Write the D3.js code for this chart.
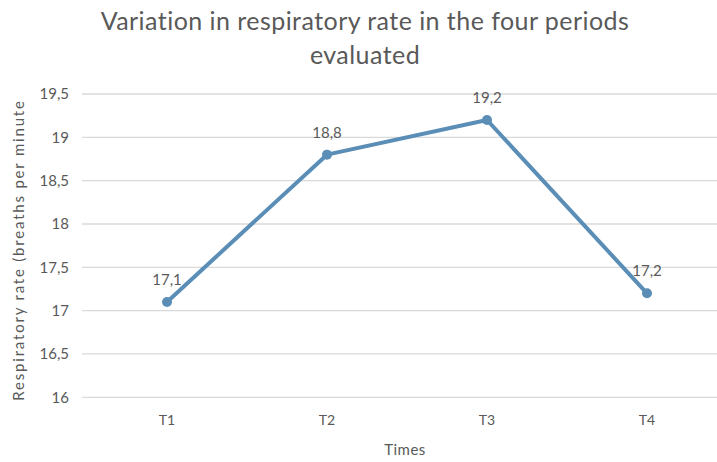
<!DOCTYPE html>
<html><head><meta charset="utf-8">
<script src="https://cdn.jsdelivr.net/npm/d3@7"></script>
<style>body{margin:0;background:#fff}svg{display:block}text{font-family:Lato,"Open Sans",sans-serif;fill:#595959}</style>
</head><body><svg id="c" width="717" height="462"></svg>
<script>
const categories = ["T1","T2","T3","T4"];
const values = [17.1,18.8,19.2,17.2];
const valueLabels = ["17,1","18,8","19,2","17,2"];
const yTicks = [16,16.5,17,17.5,18,18.5,19,19.5];
const yTickLabels = ["16","16,5","17","17,5","18","18,5","19","19,5"];

const svg = d3.select("#c");
const x = d3.scaleBand().domain(categories).range([87,727]);
const y = d3.scaleLinear().domain([16,19.5]).range([397.3,94]);

// gridlines
svg.append("g").selectAll("line").data(yTicks).join("line")
  .attr("x1",82).attr("x2",717)
  .attr("y1",d=>y(d)).attr("y2",d=>y(d))
  .attr("stroke","#d9d9d9").attr("stroke-width",1.3);

// y axis labels
const yAxis = d3.axisLeft(y).tickValues(yTicks).tickFormat((d,i)=>yTickLabels[i]).tickSize(0).tickPadding(0);
const ya = svg.append("g").attr("transform","translate(69,0)").call(yAxis);
ya.select(".domain").remove();
ya.selectAll("text").style("font-size","15px").attr("fill","#595959").style("font-family","Lato,'Open Sans',sans-serif");

// x axis labels
const xAxis = d3.axisBottom(x).tickSize(0).tickPadding(0);
const xa = svg.append("g").attr("transform","translate(0,415)").call(xAxis);
xa.select(".domain").remove();
xa.selectAll("text").style("font-size","14px").attr("fill","#595959").style("font-family","Lato,'Open Sans',sans-serif");

const cx = d=>x(d)+x.bandwidth()/2;
const line = d3.line().x((d,i)=>cx(categories[i])).y(d=>y(d));
svg.append("path").datum(values).attr("d",line)
  .attr("fill","none").attr("stroke","#5b8eb6").attr("stroke-width",4).attr("stroke-linejoin","round");
svg.append("g").selectAll("circle").data(values).join("circle")
  .attr("cx",(d,i)=>cx(categories[i])).attr("cy",d=>y(d)).attr("r",5).attr("fill","#5b8eb6");

svg.append("g").selectAll("text").data(values).join("text")
  .attr("x",(d,i)=>cx(categories[i])).attr("y",d=>y(d)-17)
  .attr("text-anchor","middle").style("font-size","15px").text((d,i)=>valueLabels[i]);

// titles
svg.append("text").attr("x",365).attr("y",30).attr("text-anchor","middle").style("font-size","25px").style("letter-spacing","0.45px")
  .text("Variation in  respiratory rate in the four periods");
svg.append("text").attr("x",365).attr("y",64).attr("text-anchor","middle").style("font-size","25px").style("letter-spacing","0.45px").text("evaluated");
svg.append("text").attr("x",405).attr("y",455).attr("text-anchor","middle").style("font-size","15px").style("letter-spacing","0.5px").text("Times");
svg.append("text").attr("transform","translate(24,250) rotate(-90)").attr("text-anchor","middle").style("font-size","15px").style("letter-spacing","1.8px")
  .text("Respiratory rate (breaths per minute");
</script></body></html>
